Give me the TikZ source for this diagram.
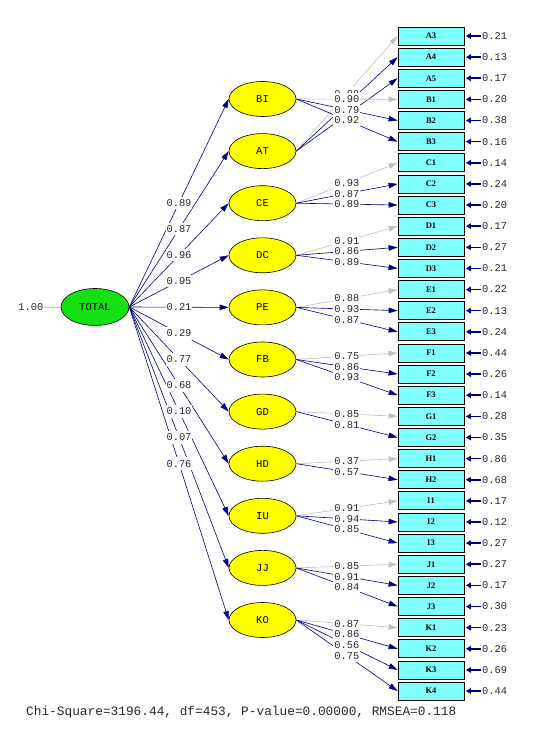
\documentclass[tikz,border=0pt]{standalone}
\usepackage{fontspec}
\setmainfont{Liberation Serif}
\setmonofont{Liberation Mono}
\usetikzlibrary{arrows.meta,shapes.geometric}
\definecolor{boxcyan}{RGB}{128,255,255}
\definecolor{latyellow}{RGB}{255,255,0}
\definecolor{totgreen}{RGB}{20,224,20}
\definecolor{lnavy}{RGB}{0,0,128}
\definecolor{lgray}{RGB}{192,192,192}
\definecolor{txt}{RGB}{40,40,40}
\begin{document}
\begin{tikzpicture}[x=1pt,y=-1pt,
  obs/.style={draw=black, line width=0.8pt, fill=boxcyan, minimum width=66pt, minimum height=18pt, inner sep=0pt, font=\fontsize{8.5}{9}\selectfont\bfseries},
  lat/.style={ellipse, draw=black, line width=0.6pt, fill=latyellow, minimum width=67pt, minimum height=35pt, inner sep=0pt, font=\ttfamily\fontsize{10.5}{12}\selectfont},
  lab/.style={fill=white, inner xsep=1pt, inner ysep=2.8pt, text height=7pt, text depth=0pt, text=txt, font=\ttfamily\fontsize{10.4}{11}\selectfont},
  errtxt/.style={inner sep=0pt, anchor=west, text=txt, font=\ttfamily\fontsize{10.4}{11}\selectfont},
  ldnavy/.style={draw=lnavy, line width=0.6pt, -{Triangle[length=9pt,width=5.5pt]}},
  ldgray/.style={draw=lgray, line width=0.6pt, -{Triangle[length=9pt,width=5.5pt]}},
  errarrow/.style={draw=lnavy, line width=1.6pt, shorten >=1.5pt, shorten <=1pt, -{Triangle[length=5pt,width=5.5pt]}}
]
\useasboundingbox (0,0) rectangle (541,751);

% observed variables with error variances
\foreach \n/\e [count=\i from 0] in {A3/0.21, A4/0.13, A5/0.17, B1/0.20, B2/0.38, B3/0.16, C1/0.14, C2/0.24, C3/0.20, D1/0.17, D2/0.27, D3/0.21, E1/0.22, E2/0.13, E3/0.24, F1/0.44, F2/0.26, F3/0.14, G1/0.28, G2/0.35, H1/0.86, H2/0.68, I1/0.17, I2/0.12, I3/0.27, J1/0.27, J2/0.17, J3/0.30, K1/0.23, K2/0.26, K3/0.69, K4/0.44} {
  \node[obs] (\n) at (431, 36+21.13*\i) {\n};
  \node[errtxt] (e\n) at (482, 36+21.13*\i) {\e};
  \draw[errarrow] (e\n.west) -- (\n.east);
}

% first-order latent variables
\foreach \n [count=\i from 0] in {BI, AT, CE, DC, PE, FB, GD, HD, IU, JJ, KO} {
  \node[lat] (\n) at (262.5, 99+52.1*\i) {\n};
}

% second-order factor
\node[lat, fill=totgreen, minimum width=68pt, minimum height=37pt] (TOTAL) at (95,307) {TOTAL};
\node[inner sep=0.5pt, anchor=east, text=txt, font=\ttfamily\fontsize{10.4}{11}\selectfont] (one) at (44,307) {1.00};
\draw[draw=lgray, line width=0.6pt] (one.east) -- (TOTAL.west);

% paths from TOTAL
\foreach \n in {BI, AT, CE, DC, PE, FB, GD, HD, IU, JJ, KO} {
  \draw[ldnavy] (TOTAL.east) -- coordinate[pos=0.5] (t\n) (\n.west);
}
\foreach \n/\t in {BI/0.89, AT/0.87, CE/0.96, DC/0.95, PE/0.21, FB/0.29, GD/0.77, HD/0.68, IU/0.10, JJ/0.07, KO/0.76} {
  \node[lab] at (t\n) {\t};
}

% loadings
\foreach \f/\b/\c in {AT/A3/ldgray, AT/A4/ldnavy, AT/A5/ldnavy, BI/B1/ldgray, BI/B2/ldnavy, BI/B3/ldnavy,
  CE/C1/ldgray, CE/C2/ldnavy, CE/C3/ldnavy, DC/D1/ldgray, DC/D2/ldnavy, DC/D3/ldnavy,
  PE/E1/ldgray, PE/E2/ldnavy, PE/E3/ldnavy, FB/F1/ldgray, FB/F2/ldnavy, FB/F3/ldnavy,
  GD/G1/ldgray, GD/G2/ldnavy, HD/H1/ldgray, HD/H2/ldnavy,
  IU/I1/ldgray, IU/I2/ldnavy, IU/I3/ldnavy, JJ/J1/ldgray, JJ/J2/ldnavy, JJ/J3/ldnavy,
  KO/K1/ldgray, KO/K2/ldnavy, KO/K3/ldnavy, KO/K4/ldnavy} {
  \draw[\c] (\f.east) -- coordinate[pos=0.5] (m\b) (\b.west);
}
\foreach \b/\v in {A3/0.88, B1/0.90, B2/0.79, B3/0.92, C1/0.93, C2/0.87, C3/0.89, D1/0.91, D2/0.86, D3/0.89,
  E1/0.88, E2/0.93, E3/0.87, F1/0.75, F2/0.86, F3/0.93, G1/0.85, G2/0.81, H1/0.37, H2/0.57,
  I1/0.91, I2/0.94, I3/0.85, J1/0.85, J2/0.91, J3/0.84, K1/0.87, K2/0.86, K3/0.56, K4/0.75} {
  \node[lab] at (m\b) {\v};
}

% fit statistics
\node[anchor=west, inner sep=0pt, text=txt, font=\ttfamily\fontsize{12.8}{14}\selectfont] (fit) at (26,712) {Chi-Square=3196.44, df=453, P-value=0.00000, RMSEA=0.118};
\end{tikzpicture}
\end{document}
